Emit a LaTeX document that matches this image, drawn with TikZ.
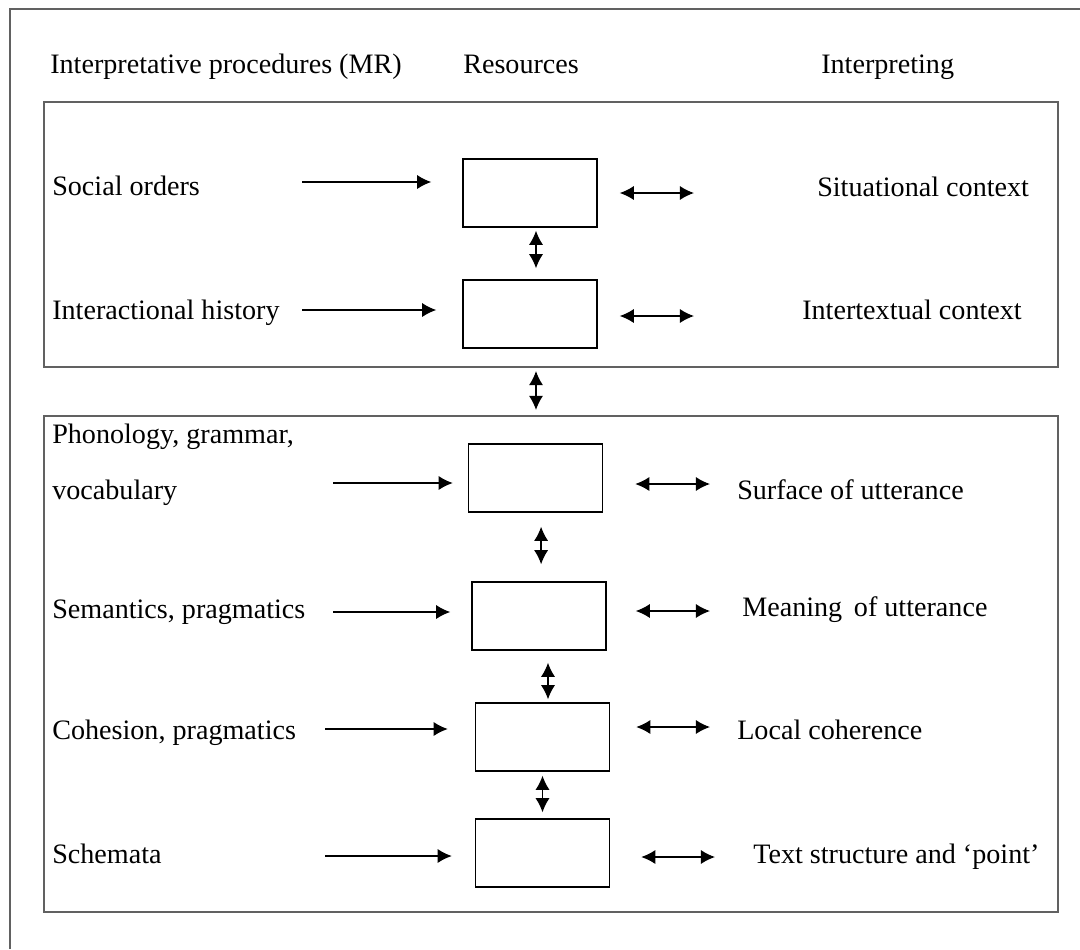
\documentclass[tikz,border=0pt]{standalone}
\usepackage{fontspec}
\setmainfont{Liberation Serif}
\usetikzlibrary{arrows.meta,positioning,calc}

\begin{document}
\begin{tikzpicture}[x=0.025cm,y=-0.025cm,>=Latex,
  frame/.style={draw=black!62,line width=1.4pt},
  grp/.style={frame,minimum width=25.35cm,inner sep=0pt},
  res/.style={draw,line width=1pt,minimum width=3.35cm,minimum height=1.7cm,inner sep=0pt},
  lbl/.style={anchor=base west,inner sep=0pt,font=\fontsize{20}{24}\selectfont},
  inarr/.style={-{Latex[length=10pt,width=10pt]},line width=1pt},
  dbl/.style={{Latex[length=10pt,width=10pt]}-{Latex[length=10pt,width=10pt]},line width=1pt}]
  \useasboundingbox (0,0) rectangle (1080,949);
  % outer frame, cut off at right and bottom
  \draw[frame] (10,949) -- (10,9) -- (1080,9);

  % column heads
  \node[lbl] (hproc) at (50,73) {Interpretative procedures (MR)};
  \node[lbl] (hres) at (463,73) {Resources};
  \node[lbl] (hint) at (821,73) {Interpreting};

  % the two groups
  \node[grp,minimum height=6.625cm] (top) at (551,234.5) {};
  \node[grp,minimum height=12.4cm] (low) at (551,664) {};

  % resource boxes
  \node[res] (b1) at (530,193) {};
  \node[res] (b2) at (530,314) {};
  \node[res] (b3) at (535.5,478) {};
  \node[res] (b4) at (539,616) {};
  \node[res] (b5) at (542.5,737) {};
  \node[res] (b6) at (542.5,853) {};

  % procedures (left)
  \node[lbl] (p1) at (52,195) {Social orders};
  \node[lbl] (p2) at (52,319) {Interactional history};
  \node[lbl] (p3a) at (52,443) {Phonology, grammar,};
  \node[lbl] (p3b) at (52,499) {vocabulary};
  \node[lbl] (p4) at (52,618) {Semantics, pragmatics};
  \node[lbl] (p5) at (52,739) {Cohesion, pragmatics};
  \node[lbl] (p6) at (52,863) {Schemata};

  % interpreting (right)
  \node[lbl] (i1) at (817,196) {Situational context};
  \node[lbl] (i2) at (802,319) {Intertextual context};
  \node[lbl] (i3) at (737,499) {Surface of utterance};
  \node[lbl] (i4) at (742,616) {Meaning\, of utterance};
  \node[lbl] (i5) at (737,739) {Local coherence};
  \node[lbl] (i6) at (753,863) {Text structure and `point'};

  % free ends of the arrows
  \coordinate (s1) at (302,182);
  \coordinate (s2) at (302,310);
  \coordinate (s3) at (333,483);
  \coordinate (s4) at (333,612);
  \coordinate (s5) at (325,729);
  \coordinate (s6) at (325,856);
  \coordinate (r1) at (694,193);
  \coordinate (r2) at (694,316);
  \coordinate (r3) at (710,484);
  \coordinate (r4) at (710,611);
  \coordinate (r5) at (710,727);
  \coordinate (r6) at (715,857);

  % into the resources
  \draw[inarr,shorten >=0.775cm] (s1) -- (s1 -| b1.west);
  \draw[inarr,shorten >=0.65cm] (s2) -- (s2 -| b2.west);
  \draw[inarr,shorten >=0.375cm] (s3) -- (s3 -| b3.west);
  \draw[inarr,shorten >=0.525cm] (s4) -- (s4 -| b4.west);
  \draw[inarr,shorten >=0.675cm] (s5) -- (s5 -| b5.west);
  \draw[inarr,shorten >=0.575cm] (s6) -- (s6 -| b6.west);

  % to the interpretation
  \draw[dbl,shorten <=0.55cm] (r1 -| b1.east) -- (r1);
  \draw[dbl,shorten <=0.55cm] (r2 -| b2.east) -- (r2);
  \draw[dbl,shorten <=0.8cm] (r3 -| b3.east) -- (r3);
  \draw[dbl,shorten <=0.725cm] (r4 -| b4.east) -- (r4);
  \draw[dbl,shorten <=0.65cm] (r5 -| b5.east) -- (r5);
  \draw[dbl,shorten <=0.775cm] (r6 -| b6.east) -- (r6);

  % between the boxes
  \draw[dbl,shorten <=0.075cm,shorten >=0.275cm] ([xshift=0.15cm]b1.south) -- ([xshift=0.15cm]b1.south |- b2.north);
  \draw[dbl,shorten <=0.075cm,shorten >=0.125cm] ([xshift=-0.375cm]top.south) -- ([xshift=-0.375cm]low.north);
  \draw[dbl,shorten <=0.35cm,shorten >=0.425cm] ([xshift=0.14cm]b3.south) -- ([xshift=0.14cm]b3.south |- b4.north);
  \draw[dbl,shorten <=0.3cm,shorten >=0.075cm] ([xshift=0.225cm]b4.south) -- ([xshift=0.225cm]b4.south |- b5.north);
  \draw[dbl,shorten <=0.1cm,shorten >=0.15cm] (b5.south) -- (b6.north);
\end{tikzpicture}
\end{document}
